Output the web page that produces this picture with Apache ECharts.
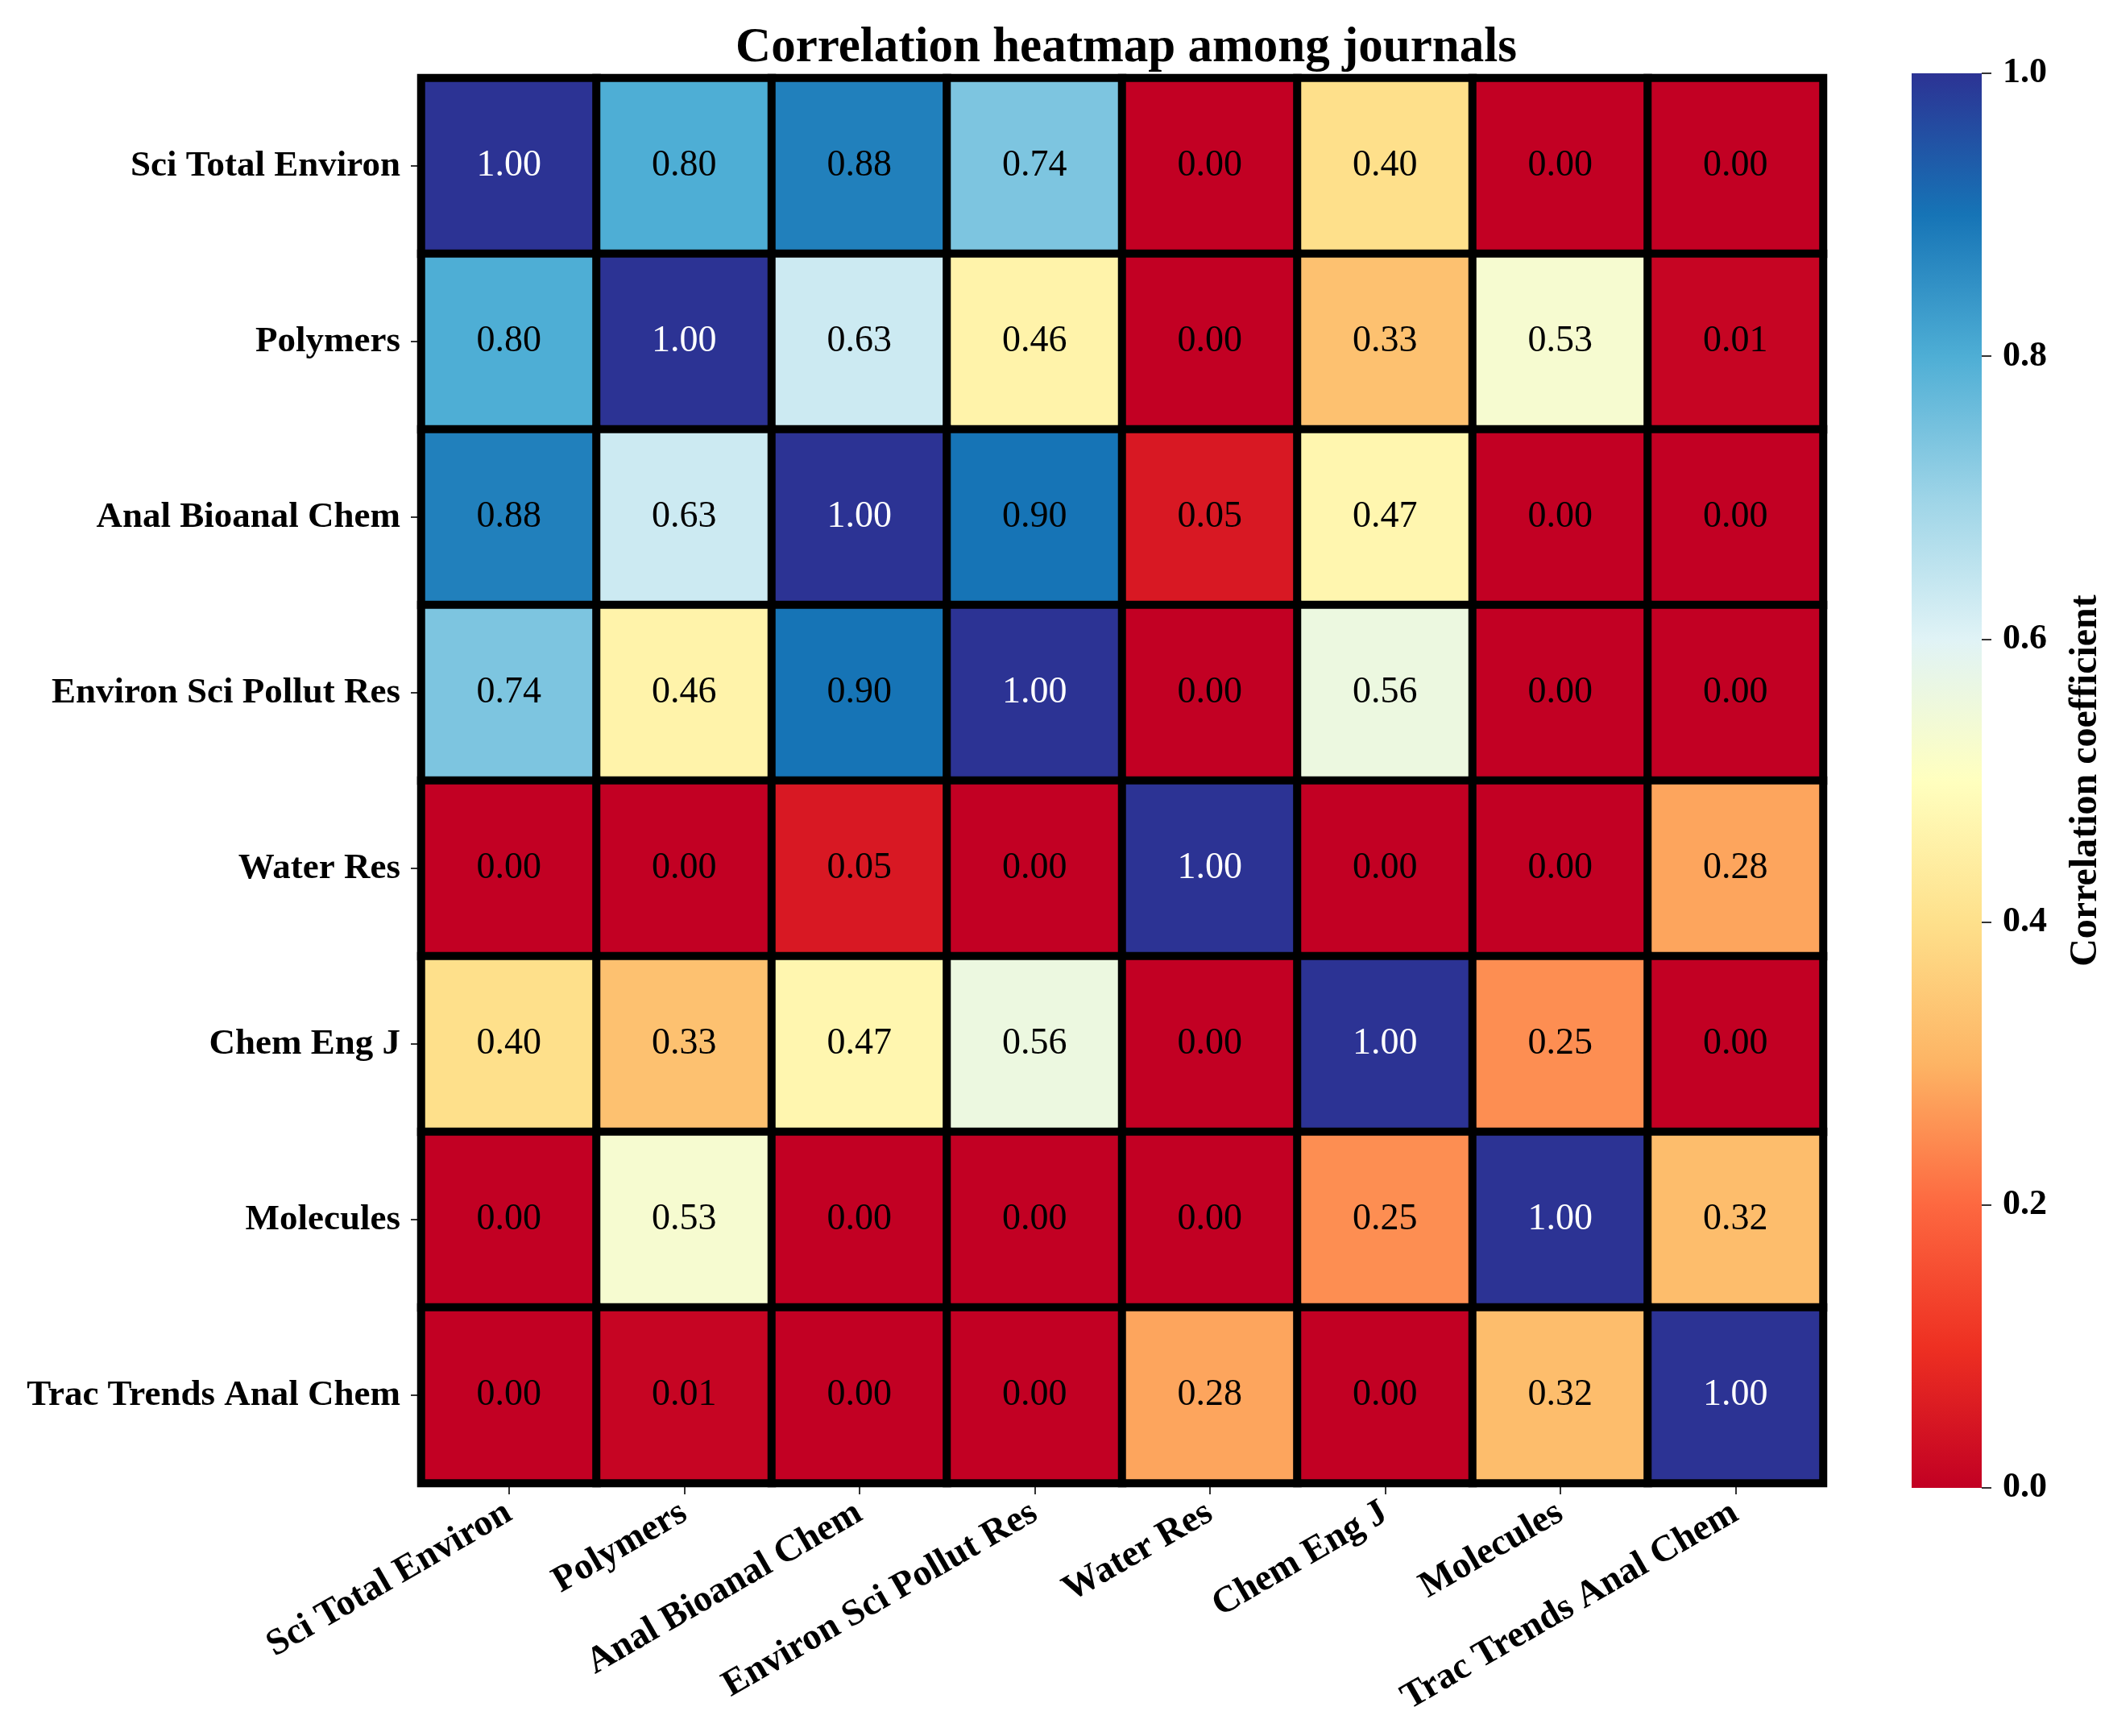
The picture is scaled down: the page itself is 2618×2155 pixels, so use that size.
<!DOCTYPE html>
<html>
<head>
<meta charset="utf-8">
<script src="https://cdn.jsdelivr.net/npm/echarts@6/dist/echarts.min.js"></script>
<style>html,body{margin:0;padding:0;background:#fff;}#c{width:2618px;height:2155px;}</style>
</head>
<body>
<div id="c"></div>
<script>
const journals = ['Sci Total Environ','Polymers','Anal Bioanal Chem','Environ Sci Pollut Res','Water Res','Chem Eng J','Molecules','Trac Trends Anal Chem'];
const rowSciTotalEnviron   = [1.00, 0.80, 0.88, 0.74, 0.00, 0.40, 0.00, 0.00];
const rowPolymers          = [0.80, 1.00, 0.63, 0.46, 0.00, 0.33, 0.53, 0.01];
const rowAnalBioanalChem   = [0.88, 0.63, 1.00, 0.90, 0.05, 0.47, 0.00, 0.00];
const rowEnvironSciPollut  = [0.74, 0.46, 0.90, 1.00, 0.00, 0.56, 0.00, 0.00];
const rowWaterRes          = [0.00, 0.00, 0.05, 0.00, 1.00, 0.00, 0.00, 0.28];
const rowChemEngJ          = [0.40, 0.33, 0.47, 0.56, 0.00, 1.00, 0.25, 0.00];
const rowMolecules         = [0.00, 0.53, 0.00, 0.00, 0.00, 0.25, 1.00, 0.32];
const rowTracTrends        = [0.00, 0.01, 0.00, 0.00, 0.28, 0.00, 0.32, 1.00];
const colorbarTicks = [0, 0.2, 0.4, 0.6, 0.8, 1.0];
const colorStops = ['#c20023','#ee3022','#fd6840','#fdb464','#fee08b','#ffffbf','#e0f3f6','#9dd4e7','#4eaed5','#1674b6','#2c3394'];

const rows = [rowSciTotalEnviron,rowPolymers,rowAnalBioanalChem,rowEnvironSciPollut,rowWaterRes,rowChemEngJ,rowMolecules,rowTracTrends];
const data = [];
rows.forEach((r, yi) => r.forEach((v, xi) => {
  data.push({value:[xi, yi, v], label:{color: v > 0.95 ? '#ffffff' : '#000000'}});
}));

const font = 'Liberation Serif, Times New Roman, serif';
const chart = echarts.init(document.getElementById('c'), null, {renderer:'canvas'});
const gradStops = colorStops.map((c, i) => ({offset: i/(colorStops.length-1), color: c}));

chart.setOption({
  backgroundColor: '#ffffff',
  animation: false,
  title: {
    text: 'Correlation heatmap among journals',
    left: 1393, top: 25, textAlign: 'center',
    textStyle: {fontFamily: font, fontWeight: 'bold', fontSize: 61, color: '#000'}
  },
  grid: [
    {left: 523, top: 97, width: 1740, height: 1744},
    {left: 2373, top: 91, width: 87, height: 1756}
  ],
  xAxis: [
    {type:'category', gridIndex:0, data: journals, position:'bottom',
     axisLine:{show:true, lineStyle:{color:'#777', width:2}},
     axisTick:{show:true, alignWithLabel:true, length:14, lineStyle:{color:'#333', width:2}},
     axisLabel:{rotate:30, margin:34, fontFamily:font, fontWeight:'bold', fontSize:46, color:'#000', interval:0},
     splitLine:{show:false}},
    {type:'category', gridIndex:1, data:['cb'], show:false, boundaryGap:true}
  ],
  yAxis: [
    {type:'category', gridIndex:0, data: journals, inverse:true,
     axisLine:{show:true, lineStyle:{color:'#777', width:2}},
     axisTick:{show:true, alignWithLabel:true, length:13, lineStyle:{color:'#333', width:2}},
     axisLabel:{margin:26, fontFamily:font, fontWeight:'bold', fontSize:45, color:'#000', interval:0},
     splitLine:{show:false}},
    {type:'value', gridIndex:1, min:0, max:1, interval:0.2, position:'right',
     axisLine:{show:false},
     axisTick:{show:true, length:12, lineStyle:{color:'#333', width:2}},
     axisLabel:{margin:26, fontFamily:font, fontWeight:'bold', fontSize:44, color:'#000',
                formatter: v => colorbarTicks.includes(Math.round(v*10)/10) ? v.toFixed(1) : ''},
     splitLine:{show:false},
     name:'Correlation coefficient', nameLocation:'middle', nameRotate:90, nameGap:106,
     nameTextStyle:{fontFamily:font, fontWeight:'bold', fontSize:48, color:'#000'}}
  ],
  visualMap: {
    show:false, type:'continuous', min:0, max:1, seriesIndex:0, dimension:2,
    inRange:{color: colorStops}
  },
  series: [
    {type:'heatmap', xAxisIndex:0, yAxisIndex:0, data: data,
     itemStyle:{borderColor:'#000', borderWidth:10},
     label:{show:true, fontFamily:font, fontSize:46, formatter: p => p.value[2].toFixed(2)},
     emphasis:{disabled:true}},
    {type:'bar', xAxisIndex:1, yAxisIndex:1, data:[1], barWidth:'100%', silent:true,
     itemStyle:{color: new echarts.graphic.LinearGradient(0,1,0,0, gradStops)}}
  ]
});
</script>
</body>
</html>
